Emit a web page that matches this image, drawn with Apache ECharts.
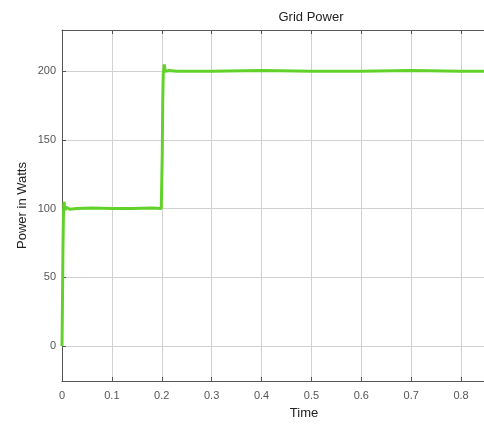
<!DOCTYPE html>
<html>
<head>
<meta charset="utf-8">
<script src="https://cdn.jsdelivr.net/npm/echarts@6/dist/echarts.min.js"></script>
<style>
html,body{margin:0;padding:0;background:#fff;}
#c{width:484px;height:425px;}
</style>
</head>
<body>
<div id="c"></div>
<script>
var title = 'Grid Power';
var xName = 'Time';
var yName = 'Power in Watts';
var yTicks = [0, 50, 100, 150, 200];
var xTicks = [0, 0.1, 0.2, 0.3, 0.4, 0.5, 0.6, 0.7, 0.8];
var time = [0, 0.001, 0.002, 0.003, 0.004, 0.006, 0.009, 0.015, 0.03, 0.06, 0.1, 0.14, 0.18, 0.199, 0.2, 0.201, 0.202, 0.203, 0.205, 0.207, 0.21, 0.215, 0.23, 0.3, 0.4, 0.5, 0.6, 0.7, 0.8, 0.846];
var power = [0, 35, 75, 97, 105, 99, 101, 99.5, 100, 100.5, 100, 100, 100.5, 100, 100, 140, 180, 198, 205, 200, 199, 200.5, 200, 200, 200.5, 200, 200, 200.5, 200, 200];

var data = time.map(function (t, i) { return [t, power[i]]; });
var chart = echarts.init(document.getElementById('c'));
var gridColor = '#d0d0d0';
var axisColor = '#555';
var lblStyle = {fontFamily: 'Liberation Sans', fontSize: 11, color: '#555'};
chart.setOption({
  animation: false,
  backgroundColor: '#fff',
  title: {
    text: title, left: 306, top: 6, textAlign: 'center',
    textStyle: {fontFamily: 'Liberation Sans', fontSize: 13, fontWeight: 'normal', color: '#222'}
  },
  grid: {left: 62, top: 30, right: 0, bottom: 43, show: false},
  xAxis: [{
    type: 'value', min: 0, max: 0.846, position: 'bottom',
    name: xName, nameLocation: 'middle', nameGap: 26,
    nameTextStyle: {fontFamily: 'Liberation Sans', fontSize: 13, color: '#222', padding: [0, 0, 0, 62]},
    axisLine: {show: true, onZero: false, lineStyle: {color: axisColor}},
    axisTick: {show: true, inside: true, length: 4, lineStyle: {color: axisColor}, customValues: xTicks},
    axisLabel: Object.assign({margin: 9, customValues: xTicks,
      formatter: function (v) { return String(Math.round(v * 10) / 10); }}, lblStyle),
    splitLine: {show: true, lineStyle: {color: gridColor}}
  }, {
    type: 'value', min: 0, max: 0.846, position: 'top',
    axisLine: {show: true, onZero: false, lineStyle: {color: axisColor}},
    axisTick: {show: true, inside: true, length: 4, lineStyle: {color: axisColor}, customValues: xTicks},
    axisLabel: {show: false},
    splitLine: {show: false}
  }],
  yAxis: {
    type: 'value', min: -25.5, max: 230,
    name: yName, nameLocation: 'middle', nameGap: 33, nameMoveOverlap: false,
    nameTextStyle: {fontFamily: 'Liberation Sans', fontSize: 13, color: '#222'},
    axisLine: {show: true, onZero: false, lineStyle: {color: axisColor}},
    axisTick: {show: true, inside: true, length: 4, lineStyle: {color: axisColor}, customValues: yTicks},
    axisLabel: Object.assign({margin: 6, customValues: yTicks}, lblStyle),
    splitLine: {show: true, lineStyle: {color: gridColor}}
  },
  series: [{
    type: 'line', data: data, showSymbol: false, smooth: false, xAxisIndex: 0,
    lineStyle: {color: '#62d22a', width: 3},
    itemStyle: {color: '#62d22a'}
  }]
});
</script>
</body>
</html>
